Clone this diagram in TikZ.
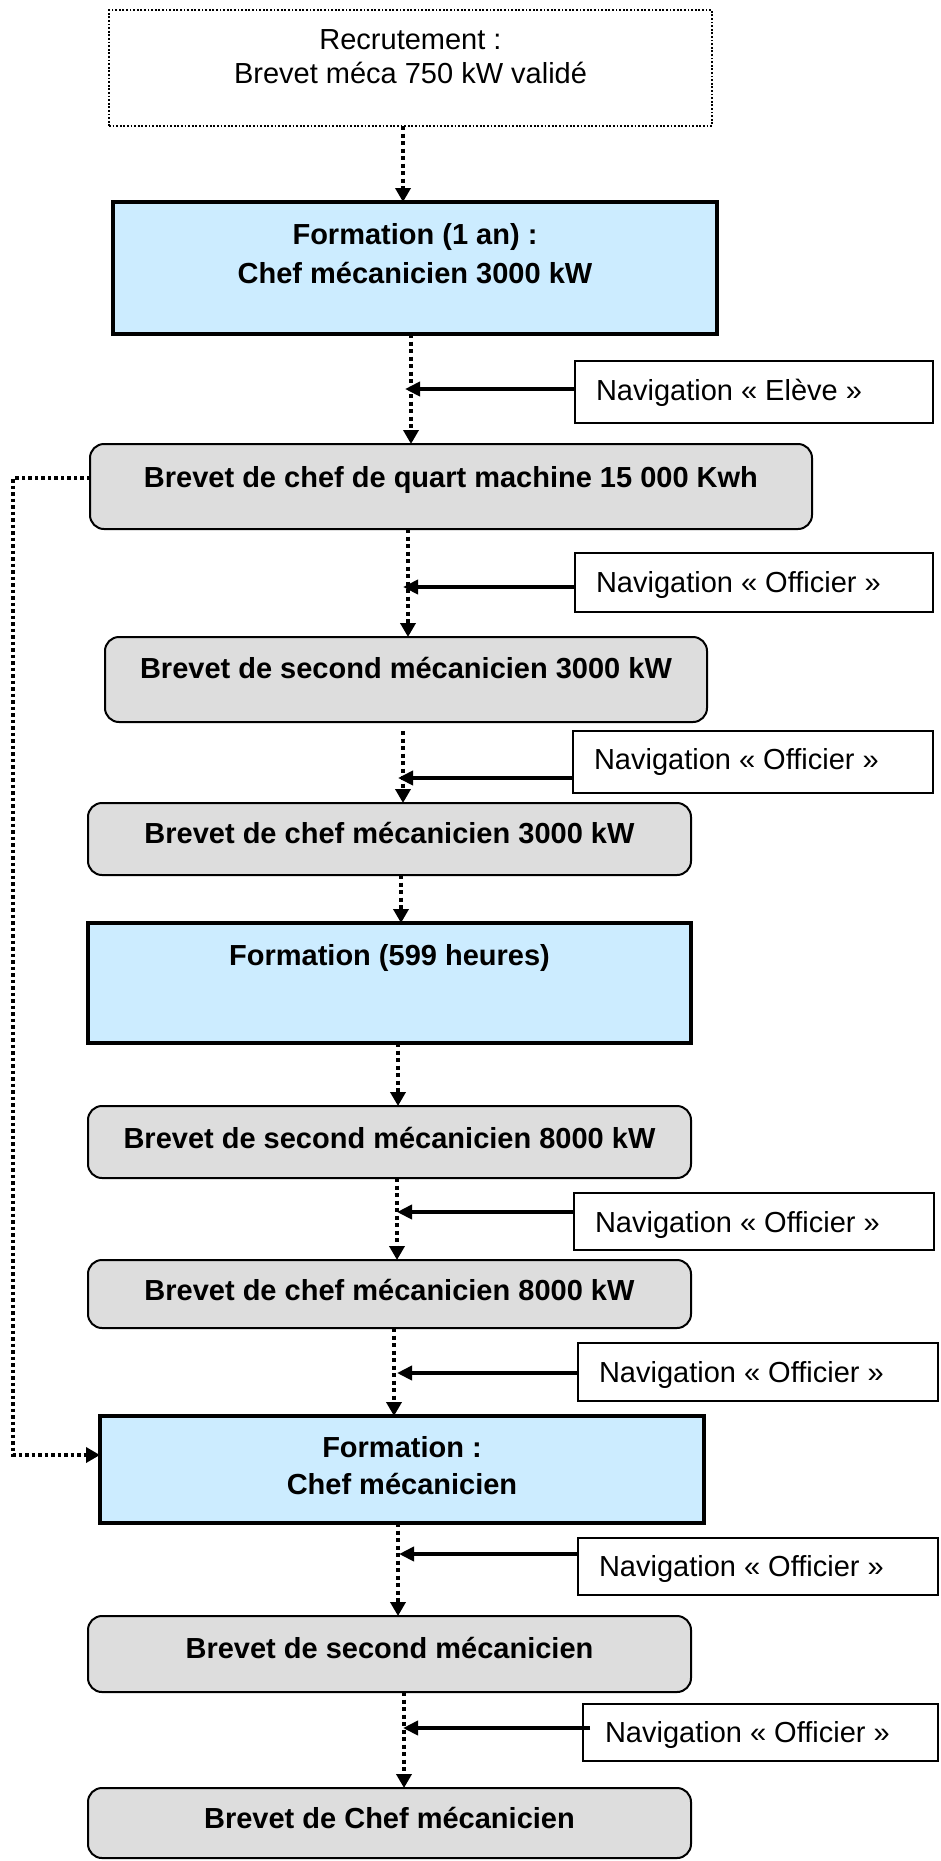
\documentclass[tikz,border=0pt]{standalone}
\usepackage{fontspec}
\setmainfont{Liberation Sans}
\usetikzlibrary{arrows.meta}
\definecolor{formblue}{RGB}{204,236,255}
\definecolor{brevgray}{RGB}{221,221,221}
% centred text box: width, height, first baseline from top, line skip, text
\newcommand{\boxc}[5]{\parbox[c][#2][t]{#1}{\fontsize{29}{#4}\selectfont\centering\vspace*{\dimexpr#3-0.7\baselineskip\relax}\strut #5}}
% left text box: width, height, first baseline from top, indent, text
\newcommand{\boxl}[5]{\parbox[c][#2][t]{#1}{\fontsize{29}{34}\selectfont\vspace*{\dimexpr#3-0.7\baselineskip\relax}\hspace*{#4}\strut #5}}
\tikzset{
  base/.style={inner sep=0pt, outer sep=0pt, anchor=north west},
  recbox/.style={base, draw=black, line width=1.8pt, dash pattern=on 1.8pt off 1.8pt},
  formbox/.style={base, draw=black, fill=formblue, line width=3.5pt, font=\bfseries},
  brevbox/.style={base, draw=black, fill=brevgray, line width=2pt, rounded corners=14pt, font=\bfseries},
  navbox/.style={base, draw=black, fill=white, line width=2pt},
  dotarr/.style={line width=4pt, dash pattern=on 4pt off 3.5pt, -{Triangle[length=14pt,width=15pt]}},
  navarr/.style={line width=4pt, -{Triangle[length=15pt,width=14pt]}},
}
\begin{document}
\begin{tikzpicture}[x=1pt,y=-1pt]
\useasboundingbox (0,0) rectangle (941,1861);

% boxes
\node[recbox] (rec) at (109,10) {\boxc{603pt}{116pt}{39pt}{34pt}{Recrutement :\\Brevet méca 750 kW validé}};
\node[formbox] (f1) at (113,202) {\boxc{604pt}{132pt}{42pt}{39pt}{Formation (1 an) :\\Chef mécanicien 3000 kW}};
\node[navbox] (nav1) at (575,361) {\boxl{358pt}{62pt}{39pt}{21pt}{Navigation « Elève »}};
\node[brevbox] (bq) at (90,444) {\boxc{722pt}{85pt}{43pt}{34pt}{Brevet de chef de quart machine 15 000 Kwh}};
\node[navbox] (nav2) at (575,553) {\boxl{358pt}{59pt}{39pt}{21pt}{Navigation « Officier »}};
\node[brevbox] (bs3) at (105,637) {\boxc{602pt}{85pt}{41pt}{34pt}{Brevet de second mécanicien 3000 kW}};
\node[navbox] (nav3) at (573,731) {\boxl{360pt}{62pt}{38pt}{21pt}{Navigation « Officier »}};
\node[brevbox] (bc3) at (88,803) {\boxc{603pt}{72pt}{40pt}{34pt}{Brevet de chef mécanicien 3000 kW}};
\node[formbox] (f599) at (88,923) {\boxc{603pt}{120pt}{42pt}{39pt}{Formation (599 heures)}};
\node[brevbox] (bs8) at (88,1106) {\boxc{603pt}{72pt}{42pt}{34pt}{Brevet de second mécanicien 8000 kW}};
\node[navbox] (nav4) at (574,1193) {\boxl{360pt}{57pt}{39pt}{21pt}{Navigation « Officier »}};
\node[brevbox] (bc8) at (88,1260) {\boxc{603pt}{68pt}{40pt}{34pt}{Brevet de chef mécanicien 8000 kW}};
\node[navbox] (nav5) at (578,1343) {\boxl{360pt}{58pt}{39pt}{21pt}{Navigation « Officier »}};
\node[formbox] (fc) at (100,1416) {\boxc{604pt}{107pt}{41pt}{37pt}{Formation :\\Chef mécanicien}};
\node[navbox] (nav6) at (578,1538) {\boxl{360pt}{57pt}{38pt}{21pt}{Navigation « Officier »}};
\node[brevbox] (bs) at (88,1616) {\boxc{603pt}{76pt}{42pt}{34pt}{Brevet de second mécanicien}};
\node[navbox] (nav7) at (583,1704) {\boxl{355pt}{57pt}{38pt}{22pt}{Navigation « Officier »}};
\node[brevbox] (bcm) at (88,1788) {\boxc{603pt}{70pt}{40pt}{34pt}{Brevet de Chef mécanicien}};

% columns of the vertical connectors
\coordinate (v1) at (403,0);
\coordinate (v2) at (411,0);
\coordinate (v3) at (408,0);
\coordinate (v4) at (403,731);
\coordinate (v5) at (401,0);
\coordinate (v6) at (398,0);
\coordinate (v7) at (397,0);
\coordinate (v8) at (394,0);
\coordinate (v9) at (398,0);
\coordinate (v10) at (404,0);

\draw[dotarr] (rec.south -| v1) -- (f1.north -| v1);
\draw[dotarr] (f1.south -| v2) -- (bq.north -| v2);
\draw[dotarr] (bq.south -| v3) -- (bs3.north -| v3);
\draw[dotarr] (v4) -- (bc3.north -| v4);
\draw[dotarr] (bc3.south -| v5) -- (f599.north -| v5);
\draw[dotarr] (f599.south -| v6) -- (bs8.north -| v6);
\draw[dotarr] (bs8.south -| v7) -- (bc8.north -| v7);
\draw[dotarr] (bc8.south -| v8) -- (fc.north -| v8);
\draw[dotarr] (fc.south -| v9) -- (bs.north -| v9);
\draw[dotarr] (bs.south -| v10) -- (bcm.north -| v10);

% navigation arrows
\coordinate (t1) at (405,389);
\coordinate (t2) at (403,587);
\coordinate (t3) at (398,778);
\coordinate (t4) at (397,1212);
\coordinate (t5) at (397,1373);
\coordinate (t6) at (399,1554);
\coordinate (t7) at (403,1728);
\draw[navarr] (nav1.west |- t1) -- (t1);
\draw[navarr] (nav2.west |- t2) -- (t2);
\draw[navarr] (nav3.west |- t3) -- (t3);
\draw[navarr] (nav4.west |- t4) -- (t4);
\draw[navarr] (nav5.west |- t5) -- (t5);
\draw[navarr] (nav6.west |- t6) -- (t6);
\draw[navarr] ([xshift=7pt]nav7.west |- t7) -- (t7);

% left loop
\coordinate (L1) at (13,478);
\coordinate (L2) at (13,1455);
\draw[dotarr, line width=3.5pt, dash pattern=on 3.5pt off 3pt] (bq.west |- L1) -- (L1) -- (L2) -- (fc.west |- L2);
\end{tikzpicture}
\end{document}
